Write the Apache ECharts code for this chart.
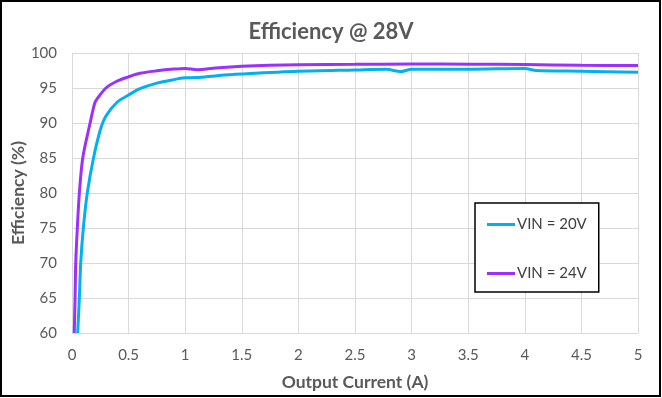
<!DOCTYPE html>
<html>
<head>
<meta charset="utf-8">
<script src="https://cdn.jsdelivr.net/npm/echarts@6/dist/echarts.min.js"></script>
<style>
html, body { margin: 0; padding: 0; background: #fff; }
#main { width: 662px; height: 398px; }
</style>
</head>
<body>
<div id="main"></div>
<script>
// output current (A) / efficiency (%)
var current20 = [0.05, 0.065, 0.077, 0.1, 0.135, 0.19, 0.25, 0.3, 0.4, 0.5, 0.6, 0.75, 0.9, 1.0, 1.1, 1.3, 1.5, 2.0, 2.5, 2.78, 2.9, 3.0, 3.5, 4.0, 4.1, 4.5, 5.0]
var eff20 = [60, 65, 70, 75, 80, 85, 89, 91.0, 93.0, 94.0, 94.9, 95.7, 96.2, 96.45, 96.5, 96.8, 97.0, 97.38, 97.57, 97.67, 97.35, 97.67, 97.67, 97.8, 97.5, 97.4, 97.25]
var current24 = [0.02, 0.027, 0.033, 0.047, 0.065, 0.095, 0.16, 0.2, 0.22, 0.3, 0.4, 0.5, 0.6, 0.75, 0.9, 1.0, 1.1, 1.3, 1.5, 1.75, 2.0, 2.5, 3.0, 3.5, 4.0, 4.5, 5.0]
var eff24 = [60, 65, 70, 75, 80, 85, 90, 92.8, 93.4, 95.0, 96.0, 96.6, 97.1, 97.45, 97.7, 97.8, 97.6, 97.9, 98.1, 98.25, 98.33, 98.38, 98.43, 98.4, 98.35, 98.25, 98.2]
var seriesNames = ['VIN = 20V', 'VIN = 24V']
var colors = ['#00B0F0', '#9B30FF']

function pairs(xs, ys) {
  var out = []
  for (var i = 0; i < xs.length; i++) {
    out.push([xs[i], ys[i]])
  }
  return out
}

var font = 'Lato, "Open Sans", sans-serif'
var option = {
  animation: false,
  textStyle: { fontFamily: font },
  title: {
    text: 'Efficiency @ 28V',
    left: 'center',
    top: 16,
    textStyle: { fontFamily: font, fontWeight: 'bold', fontSize: 22, color: '#595959' }
  },
  graphic: [{
    type: 'rect',
    shape: { x: 1, y: 1, width: 659, height: 395 },
    style: { fill: 'none', stroke: '#000', lineWidth: 2 },
    silent: true
  }],
  legend: {
    orient: 'vertical',
    left: 475,
    top: 203,
    padding: [14, 12, 11, 12],
    itemGap: 34,
    itemWidth: 28,
    itemHeight: 3,
    icon: 'rect',
    borderColor: '#000',
    borderWidth: 1.5,
    backgroundColor: '#fff',
    data: seriesNames,
    textStyle: { fontFamily: font, fontSize: 15, color: '#404040', padding: [0, 0, 0, -3] }
  },
  grid: { left: 72, right: 24, top: 53, bottom: 65, containLabel: false, outerBoundsMode: 'none' },
  xAxis: {
    type: 'value',
    min: 0,
    max: 5,
    interval: 0.5,
    name: 'Output Current (A)',
    nameLocation: 'middle',
    nameGap: 40,
    nameMoveOverlap: false,
    nameTextStyle: { fontFamily: font, fontWeight: 'bold', fontSize: 17.5, color: '#595959' },
    axisLine: { show: false },
    axisTick: { show: false },
    axisLabel: { fontSize: 15, color: '#595959', margin: 15 },
    splitLine: { show: true, lineStyle: { color: '#D9D9D9', width: 1 } }
  },
  yAxis: {
    type: 'value',
    min: 60,
    max: 100,
    interval: 5,
    name: 'Efficiency (%)',
    nameLocation: 'middle',
    nameRotate: 90,
    nameGap: 45,
    nameMoveOverlap: false,
    nameTextStyle: { fontFamily: font, fontWeight: 'bold', fontSize: 17.5, color: '#595959' },
    axisLine: { show: false },
    axisTick: { show: false },
    axisLabel: { fontSize: 15, color: '#595959', margin: 15 },
    splitLine: { show: true, lineStyle: { color: '#D9D9D9', width: 1 } }
  },
  series: [{
    name: seriesNames[0],
    type: 'line',
    smooth: 0.3,
    symbol: 'none',
    clip: true,
    color: colors[0],
    lineStyle: { width: 3, color: colors[0] },
    data: pairs(current20, eff20)
  }, {
    name: seriesNames[1],
    type: 'line',
    smooth: 0.3,
    symbol: 'none',
    clip: true,
    color: colors[1],
    lineStyle: { width: 3, color: colors[1] },
    data: pairs(current24, eff24)
  }]
}

var myChart = echarts.init(document.getElementById('main'))
myChart.setOption(option)
</script>
</body>
</html>
